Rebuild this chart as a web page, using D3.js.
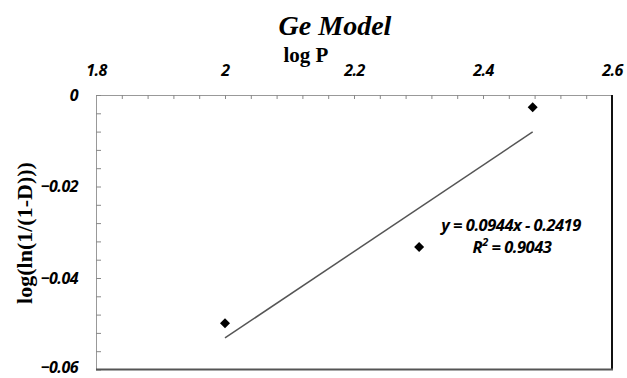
<!DOCTYPE html>
<html>
<head>
<meta charset="utf-8">
<script src="https://cdn.jsdelivr.net/npm/d3@7"></script>
<style>
  body { margin: 0; background: #fff; }
  svg { display: block; }
</style>
</head>
<body>
<div id="chart"></div>
<script>
// data
const logP = [2.0, 2.301, 2.477];
const logLnD = [-0.0499, -0.0332, -0.0027];
const xTicks = d3.range(1.8, 2.6001, 0.04);
const yTicks = d3.range(-0.06, 0.0001, 0.004);
const trendSlope = 0.0944, trendIntercept = -0.2419;
const eqnText = "y = 0.0944x - 0.2419";
const r2Text = "0.9043";

const W = 627, H = 378;
const SANS = "'Open Sans', Lato, sans-serif";
const SERIF = "'Liberation Serif', 'DejaVu Serif', serif";

const svg = d3.select("#chart").append("svg")
  .attr("width", W).attr("height", H);

const x = d3.scaleLinear().domain([1.8, 2.6]).range([96, 612]);
const y = d3.scaleLinear().domain([-0.06, 0]).range([369.5, 95]);

const isMajor = (v, step) => Math.abs(v / step - Math.round(v / step)) < 1e-6;

const styleLabels = sel => sel
  .attr("font-family", SANS).attr("font-size", 16)
  .attr("font-weight", "bold").attr("font-style", "italic")
  .attr("letter-spacing", -0.5).attr("fill", "#000");

// ── X axis (top) ──
const xAxis = svg.append("g")
  .attr("transform", `translate(0,${y(0)})`)
  .call(d3.axisTop(x)
    .tickValues(xTicks)
    .tickSizeInner(-4).tickSizeOuter(0)
    .tickPadding(19)
    .tickFormat(v => isMajor(v, 0.2) ? d3.format("~g")(+v.toFixed(2)) : ""));
xAxis.select(".domain").attr("stroke", "#999");
xAxis.selectAll(".tick line").attr("stroke", "#888");
styleLabels(xAxis.selectAll("text"));

// ── Y axis (left) ──
const yAxis = svg.append("g")
  .attr("transform", `translate(${x(1.8)},0)`)
  .call(d3.axisLeft(y)
    .tickValues(yTicks)
    .tickSizeInner(-5).tickSizeOuter(0)
    .tickPadding(18)
    .tickFormat(v => isMajor(v, 0.02) ? d3.format("~g")(+v.toFixed(3)) : ""));
yAxis.select(".domain").attr("stroke", "#999");
yAxis.selectAll(".tick line").attr("stroke", "#888");
styleLabels(yAxis.selectAll("text"));
// keep the bottom label inside the picture
yAxis.selectAll(".tick text").filter(d => isMajor(d, 0.06) && d < 0).attr("dy", "0.2em");

// right and bottom frame lines
svg.append("line")
  .attr("x1", x(2.6)).attr("x2", x(2.6)).attr("y1", y(0)).attr("y2", y(-0.06))
  .attr("stroke", "#111").attr("stroke-width", 2);
svg.append("line")
  .attr("x1", x(1.8)).attr("x2", x(2.6) + 1).attr("y1", y(-0.06)).attr("y2", y(-0.06))
  .attr("stroke", "#555").attr("stroke-width", 2);

// ── Trendline ──
const [tx0, tx1] = d3.extent(logP);
svg.append("path")
  .attr("d", d3.line()([[x(tx0), y(trendSlope * tx0 + trendIntercept)],
                        [x(tx1), y(trendSlope * tx1 + trendIntercept)]]))
  .attr("stroke", "#555").attr("stroke-width", 1.5).attr("fill", "none");

// ── Points (diamonds) ──
svg.append("g").selectAll("path")
  .data(logP.map((v, i) => [v, logLnD[i]]))
  .join("path")
  .attr("d", d3.symbol(d3.symbolSquare, 50))
  .attr("transform", d => `translate(${x(d[0])},${y(d[1])}) rotate(45)`)
  .attr("fill", "#000");

// ── Equation ──
styleLabels(svg.append("text"))
  .attr("x", 511).attr("y", 231)
  .attr("text-anchor", "middle")
  .attr("font-size", 16.5)
  .text(eqnText);
const r2 = styleLabels(svg.append("text"))
  .attr("x", 512).attr("y", 253)
  .attr("text-anchor", "middle")
  .attr("font-size", 16.5);
r2.append("tspan").text("R");
r2.append("tspan").attr("dy", -7).attr("font-size", 11).text("2");
r2.append("tspan").attr("dy", 7).text(" = " + r2Text);

// ── Titles ──
svg.append("text")
  .attr("x", 335).attr("y", 35)
  .attr("text-anchor", "middle")
  .attr("font-family", SERIF).attr("font-size", 28)
  .attr("font-weight", "bold").attr("font-style", "italic")
  .text("Ge Model");
svg.append("text")
  .attr("x", 306).attr("y", 62)
  .attr("text-anchor", "middle")
  .attr("font-family", SERIF).attr("font-size", 21)
  .attr("font-weight", "bold")
  .text("log P");
svg.append("text")
  .attr("transform", "translate(32,233) rotate(-90)")
  .attr("text-anchor", "middle")
  .attr("font-family", SERIF).attr("font-size", 22)
  .attr("font-weight", "bold")
  .text("log(ln(1/(1-D)))");
</script>
</body>
</html>
